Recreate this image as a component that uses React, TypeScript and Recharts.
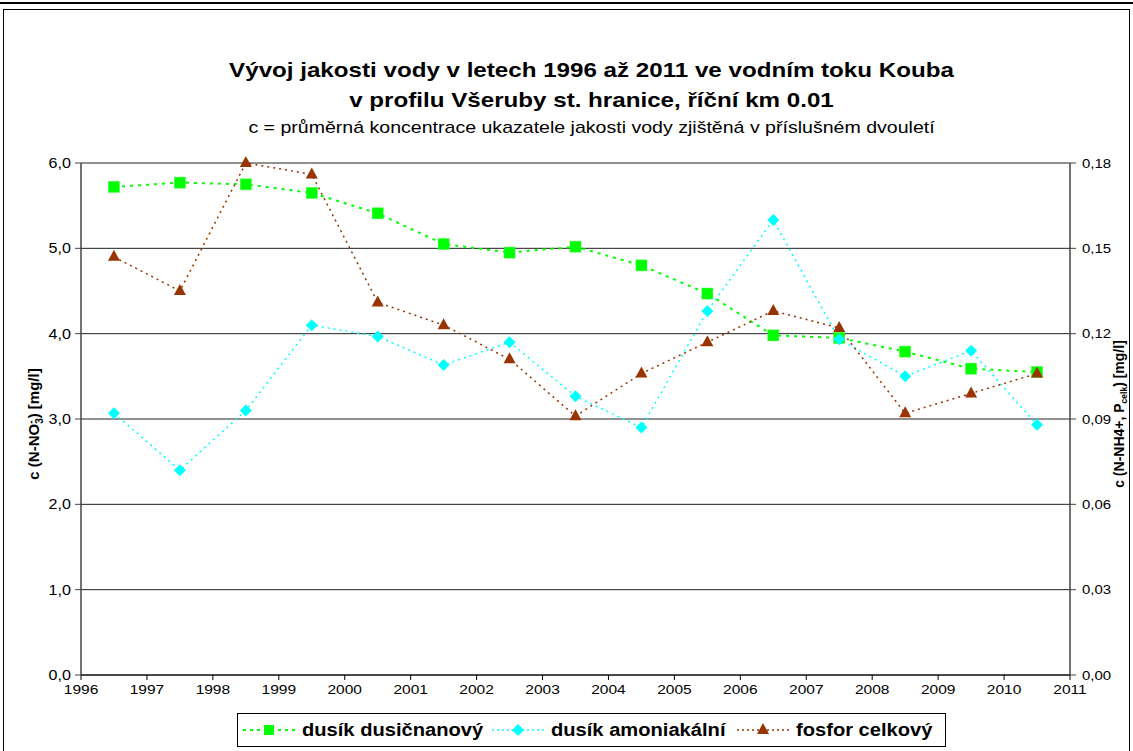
import React from 'react';
import { LineChart, Line, XAxis, YAxis, CartesianGrid } from 'recharts';

// midpoints of the two-year periods
const periods = [1996.5, 1997.5, 1998.5, 1999.5, 2000.5, 2001.5, 2002.5, 2003.5, 2004.5, 2005.5, 2006.5, 2007.5, 2008.5, 2009.5, 2010.5];

// dusík dusičnanový (left axis, mg/l)
const nitrate = [5.72, 5.77, 5.75, 5.65, 5.41, 5.05, 4.95, 5.02, 4.8, 4.47, 3.98, 3.95, 3.79, 3.59, 3.55];
// dusík amoniakální (right axis, mg/l)
const ammonia = [0.092, 0.072, 0.093, 0.123, 0.119, 0.109, 0.117, 0.098, 0.087, 0.128, 0.16, 0.118, 0.105, 0.114, 0.088];
// fosfor celkový (right axis, mg/l)
const phosphorus = [0.147, 0.135, 0.18, 0.176, 0.131, 0.123, 0.111, 0.091, 0.106, 0.117, 0.128, 0.122, 0.092, 0.099, 0.106];

const yearTicks = [1996, 1997, 1998, 1999, 2000, 2001, 2002, 2003, 2004, 2005, 2006, 2007, 2008, 2009, 2010, 2011];
const leftTicks = [0, 1, 2, 3, 4, 5, 6];
const rightTicks = [0, 0.03, 0.06, 0.09, 0.12, 0.15, 0.18];

const FONT = 'Arial, "Liberation Sans", sans-serif';
const GREEN = '#00ff00';
const CYAN = '#00ffff';
const BROWN = '#993300';
const STRETCH = 1.15; // the original text is a bit wider than plain Arial

const data = periods.map((x, i) => ({
  x,
  nitrate: nitrate[i],
  ammonia: ammonia[i],
  phosphorus: phosphorus[i],
}));

const Square = (props: any) => {
  const { cx, cy } = props;
  if (cx == null || cy == null) return null;
  return <rect x={cx - 5.5} y={cy - 5.5} width={11} height={11} fill={GREEN} stroke="#33ff33" strokeWidth={0.5} />;
};

const Diamond = (props: any) => {
  const { cx, cy } = props;
  if (cx == null || cy == null) return null;
  return <path d={`M${cx},${cy - 6}L${cx + 6},${cy}L${cx},${cy + 6}L${cx - 6},${cy}Z`} fill={CYAN} />;
};

const Triangle = (props: any) => {
  const { cx, cy } = props;
  if (cx == null || cy == null) return null;
  return <path d={`M${cx},${cy - 7}L${cx + 6},${cy + 4}L${cx - 6},${cy + 4}Z`} fill={BROWN} />;
};

const makeTick = (fmt: (v: number) => string, dy: string, size: number) => (props: any) => {
  const { x, y, payload, textAnchor } = props;
  return (
    <g transform={`translate(${x},${y}) scale(${STRETCH},1)`}>
      <text x={0} y={0} dy={dy} textAnchor={textAnchor} fontSize={size} fontFamily={FONT} fill="#000">
        {fmt(payload.value)}
      </text>
    </g>
  );
};

const LegendIcon = ({ color, dash, width, marker }: { color: string; dash: string; width: number; marker: string }) => (
  <svg width={54} height={16} style={{ display: 'block' }}>
    <line x1={1} y1={8} x2={53} y2={8} stroke={color} strokeWidth={width} strokeDasharray={dash} />
    {marker === 'square' && <rect x={22} y={3} width={10} height={10} fill={GREEN} />}
    {marker === 'diamond' && <path d="M27,2L33,8L27,14L21,8Z" fill={CYAN} />}
    {marker === 'triangle' && <path d="M27,1L33,12L21,12Z" fill={BROWN} />}
  </svg>
);

const legendText: React.CSSProperties = {
  position: 'absolute',
  top: 6,
  fontWeight: 'bold',
  fontSize: 17.5,
  lineHeight: '20px',
  whiteSpace: 'nowrap',
  transform: `scaleX(${STRETCH})`,
  transformOrigin: 'left center',
};

export default function App() {
  const fmt1 = (v: number) => v.toFixed(1).replace('.', ',');
  const fmt2 = (v: number) => v.toFixed(2).replace('.', ',');
  const yearFmt = (v: number) => String(v);

  return (
    <div style={{ position: 'absolute', left: 0, top: 0, width: 1133, height: 751, overflow: 'hidden', background: '#fff', fontFamily: FONT, color: '#000' }}>
      {/* frames */}
      <div style={{ position: 'absolute', left: -2, top: -10, width: 1137, height: 12, borderBottom: '2px solid #000' }} />
      <div style={{ position: 'absolute', left: 3, top: 9, width: 1125, height: 760, border: '1.5px solid #000' }} />

      {/* titles */}
      <div style={{ position: 'absolute', left: 0, width: 1183, top: 55, textAlign: 'center', fontWeight: 'bold', fontSize: 21, lineHeight: '30px', transform: `scaleX(${STRETCH})`, transformOrigin: 'center' }}>
        Vývoj jakosti vody v letech 1996 až 2011 ve vodním toku Kouba
        <br />
        v profilu Všeruby st. hranice, říční km 0.01
      </div>
      <div style={{ position: 'absolute', left: 0, width: 1183, top: 118, textAlign: 'center', fontSize: 17, transform: `scaleX(${STRETCH})`, transformOrigin: 'center' }}>
        c = průměrná koncentrace ukazatele jakosti vody zjištěná v příslušném dvouletí
      </div>

      <div style={{ position: 'absolute', left: 0, top: 0 }}>
        <LineChart width={1133} height={751} data={data} margin={{ top: 163, right: 0, bottom: 46, left: 0 }}>
          <CartesianGrid yAxisId="l" vertical={false} stroke="#222" strokeWidth={1} />
          <XAxis
            dataKey="x"
            type="number"
            domain={[1996, 2011]}
            ticks={yearTicks}
            interval={0}
            tick={makeTick(yearFmt, '0.71em', 13.5)}
            tickSize={5}
            tickMargin={4}
            axisLine={{ stroke: '#000' }}
            tickLine={{ stroke: '#000' }}
            height={30}
            allowDataOverflow
          />
          <YAxis
            yAxisId="l"
            domain={[0, 6]}
            ticks={leftTicks}
            tick={makeTick(fmt1, '0.355em', 14)}
            tickSize={6}
            tickMargin={4}
            width={81}
            axisLine={{ stroke: '#444', strokeWidth: 1.5 }}
            tickLine={{ stroke: '#444' }}
          />
          <YAxis
            yAxisId="r"
            orientation="right"
            domain={[0, 0.18]}
            ticks={rightTicks}
            tick={makeTick(fmt2, '0.355em', 13)}
            tickSize={6}
            tickMargin={6}
            width={63}
            axisLine={{ stroke: '#444', strokeWidth: 1.5 }}
            tickLine={{ stroke: '#444' }}
          />
          <Line
            yAxisId="l"
            dataKey="nitrate"
            stroke={GREEN}
            strokeWidth={2}
            strokeDasharray="3 5"
            dot={<Square />}
            isAnimationActive={false}
          />
          <Line
            yAxisId="r"
            dataKey="ammonia"
            stroke={CYAN}
            strokeWidth={1.5}
            strokeDasharray="2 4"
            dot={<Diamond />}
            isAnimationActive={false}
          />
          <Line
            yAxisId="r"
            dataKey="phosphorus"
            stroke={BROWN}
            strokeWidth={1.5}
            strokeDasharray="2 4"
            dot={<Triangle />}
            isAnimationActive={false}
          />
        </LineChart>
      </div>

      {/* axis titles */}
      <div style={{ position: 'absolute', left: 35, top: 424, transform: 'translate(-50%, -50%) rotate(-90deg)', whiteSpace: 'nowrap', fontWeight: 'bold', fontSize: 15 }}>
        c (N-NO
        <span style={{ display: 'inline-block', verticalAlign: 'middle', fontSize: 10, lineHeight: '9px', textAlign: 'left' }}>
          -<br />3
        </span>
        ) [mg/l]
      </div>
      <div style={{ position: 'absolute', left: 1120, top: 414, transform: 'translate(-50%, -50%) rotate(-90deg)', whiteSpace: 'nowrap', fontWeight: 'bold', fontSize: 14 }}>
        c (N-NH4+, P<sub style={{ fontSize: 8.5 }}>celk</sub>) [mg/l]
      </div>

      {/* legend */}
      <div style={{ position: 'absolute', left: 237, top: 713, width: 707, height: 32, border: '1px solid #000' }}>
        <div style={{ position: 'absolute', left: 4, top: 8 }}>
          <LegendIcon color={GREEN} dash="3 4" width={2} marker="square" />
        </div>
        <span style={{ ...legendText, left: 64 }}>dusík dusičnanový</span>
        <div style={{ position: 'absolute', left: 253, top: 8 }}>
          <LegendIcon color={CYAN} dash="2 3" width={1.5} marker="diamond" />
        </div>
        <span style={{ ...legendText, left: 313 }}>dusík amoniakální</span>
        <div style={{ position: 'absolute', left: 498, top: 8 }}>
          <LegendIcon color={BROWN} dash="2 3" width={1.5} marker="triangle" />
        </div>
        <span style={{ ...legendText, left: 558 }}>fosfor celkový</span>
      </div>
    </div>
  );
}
